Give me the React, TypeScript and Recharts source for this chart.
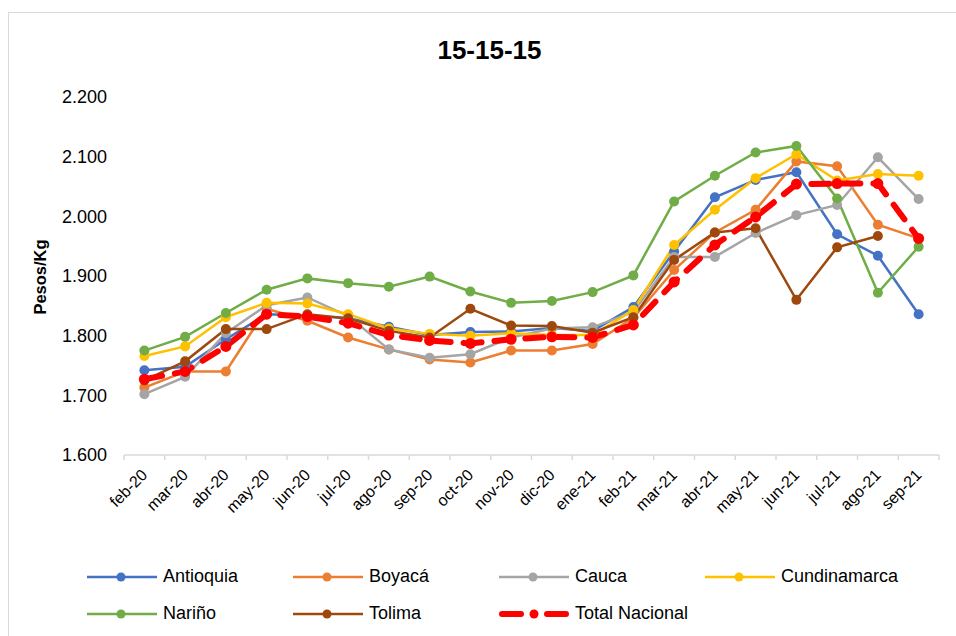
import { LineChart, Line, XAxis, YAxis } from "recharts";

const months = [
  "feb-20", "mar-20", "abr-20", "may-20", "jun-20", "jul-20", "ago-20", "sep-20", "oct-20", "nov-20",
  "dic-20", "ene-21", "feb-21", "mar-21", "abr-21", "may-21", "jun-21", "jul-21", "ago-21", "sep-21",
];

const antioquia = [1742, 1748, 1794, 1836, 1834, 1829, 1815, 1801, 1806, 1807, 1813, 1808, 1848, 1941, 2032, 2061, 2074, 1970, 1934, 1836];
const boyaca = [1713, 1740, 1740, 1845, 1825, 1797, 1777, 1760, 1755, 1775, 1775, 1786, 1830, 1910, 1973, 2011, 2092, 2084, 1986, 1963];
const cauca = [1702, 1731, 1804, 1851, 1864, 1833, 1777, 1763, 1769, 1797, 1812, 1814, 1840, 1932, 1932, 1972, 2002, 2019, 2099, 2029];
const cundinamarca = [1766, 1782, 1831, 1855, 1854, 1836, 1812, 1803, 1800, 1804, 1801, 1801, 1843, 1952, 2011, 2064, 2104, 2060, 2071, 2068];
const narino = [1775, 1798, 1838, 1877, 1896, 1888, 1882, 1899, 1874, 1855, 1858, 1873, 1901, 2025, 2068, 2107, 2118, 2030, 1872, 1949];
const tolima = [1725, 1757, 1811, 1811, 1836, 1829, 1808, 1797, 1845, 1817, 1816, 1805, 1831, 1927, 1973, 1980, 1860, 1948, 1967, null];
const totalNacional = [1727, 1740, 1782, 1836, 1832, 1821, 1801, 1792, 1787, 1794, 1798, 1797, 1818, 1890, 1952, 1999, 2054, 2055, 2055, 1963];

const yTicks = [1600, 1700, 1800, 1900, 2000, 2100, 2200];

const series = [
  { key: "antioquia", name: "Antioquia", values: antioquia, color: "#4472C4" },
  { key: "boyaca", name: "Boyacá", values: boyaca, color: "#ED7D31" },
  { key: "cauca", name: "Cauca", values: cauca, color: "#A5A5A5" },
  { key: "cundinamarca", name: "Cundinamarca", values: cundinamarca, color: "#FFC000" },
  { key: "narino", name: "Nariño", values: narino, color: "#70AD47" },
  { key: "tolima", name: "Tolima", values: tolima, color: "#9E480E" },
  { key: "total", name: "Total Nacional", values: totalNacional, color: "#FF0000", dashed: true },
];

const data = months.map((m, i) => {
  const row: Record<string, any> = { month: m };
  series.forEach((s) => (row[s.key] = s.values[i]));
  return row;
});

const FONT = '"Liberation Sans", Arial, sans-serif';
const W = 956;
const H = 636;
const LEFT = 124;
const RIGHT = 17;
const HALF_BAND = (W - LEFT - RIGHT) / months.length / 2;

const fmt = (v: number) => (v / 1000).toFixed(3);

function XTick(props: any) {
  const { x, y, payload, index } = props;
  return (
    <g>
      {index === 0 && <line x1={x - HALF_BAND} x2={x - HALF_BAND} y1={y} y2={y + 5} stroke="#D9D9D9" strokeWidth={1.5} />}
      <line x1={x + HALF_BAND} x2={x + HALF_BAND} y1={y} y2={y + 5} stroke="#D9D9D9" strokeWidth={1.5} />
      <text
        x={x + 4}
        y={y + 21}
        textAnchor="end"
        transform={`rotate(-45, ${x + 4}, ${y + 21})`}
        fontSize={16}
        fontFamily={FONT}
        fill="#000"
      >
        {payload.value}
      </text>
    </g>
  );
}

function YTick(props: any) {
  const { x, y, payload } = props;
  return (
    <text x={x - 17} y={y} dy="0.36em" textAnchor="end" fontSize={18} fontFamily={FONT} fill="#000">
      {fmt(payload.value)}
    </text>
  );
}

function LegendItem({ s }: { s: (typeof series)[number] }) {
  return (
    <div style={{ display: "flex", alignItems: "center", width: 206 }}>
      <svg width={76} height={14}>
        {s.dashed ? (
          <g>
            <line x1={3} x2={22} y1={7} y2={7} stroke={s.color} strokeWidth={6} strokeLinecap="round" />
            <circle cx={35} cy={7} r={4.5} fill={s.color} />
            <line x1={48} x2={67} y1={7} y2={7} stroke={s.color} strokeWidth={6} strokeLinecap="round" />
          </g>
        ) : (
          <g>
            <line x1={0} x2={70} y1={7} y2={7} stroke={s.color} strokeWidth={2.5} />
            <circle cx={34} cy={7} r={4.5} fill={s.color} />
          </g>
        )}
      </svg>
      <span style={{ fontSize: 18, fontFamily: FONT, color: "#000", whiteSpace: "nowrap" }}>{s.name}</span>
    </div>
  );
}

export default function App() {
  return (
    <div style={{ position: "absolute", left: 0, top: 0, width: W, height: H, background: "#fff", overflow: "hidden" }}>
      <div
        style={{
          position: "absolute",
          left: 8,
          top: 12,
          width: 960,
          height: 640,
          border: "1.5px solid #D9D9D9",
          boxSizing: "border-box",
        }}
      />
      <div
        style={{
          position: "absolute",
          left: 0,
          width: 979,
          top: 33,
          textAlign: "center",
          fontFamily: FONT,
          fontWeight: "bold",
          fontSize: 26,
          lineHeight: "34px",
        }}
      >
        15-15-15
      </div>
      <div
        style={{
          position: "absolute",
          left: 40,
          top: 277,
          transform: "translate(-50%, -50%) rotate(-90deg)",
          fontFamily: FONT,
          fontWeight: "bold",
          fontSize: 16.5,
          whiteSpace: "nowrap",
        }}
      >
        Pesos/Kg
      </div>
      <LineChart width={W} height={H} data={data} margin={{ top: 97, right: RIGHT, bottom: 101, left: 0 }}>
        <XAxis
          dataKey="month"
          height={80}
          interval={0}
          padding={{ left: HALF_BAND, right: HALF_BAND }}
          axisLine={{ stroke: "#D9D9D9", strokeWidth: 1.5 }}
          tickLine={false}
          tickSize={0}
          tickMargin={0}
          tick={<XTick />}
        />
        <YAxis
          width={LEFT}
          domain={[1600, 2200]}
          ticks={yTicks}
          axisLine={false}
          tickLine={false}
          tickSize={0}
          tickMargin={0}
          tick={<YTick />}
        />
        {series.map((s) => (
          <Line
            key={s.key}
            dataKey={s.key}
            name={s.name}
            stroke={s.color}
            strokeWidth={s.dashed ? 6 : 2.5}
            strokeDasharray={s.dashed ? "18 13" : undefined}
            strokeLinecap={s.dashed ? "round" : "butt"}
            dot={{ r: s.dashed ? 5.5 : 5, fill: s.color, stroke: "none" }}
            type="linear"
            isAnimationActive={false}
            connectNulls={false}
          />
        ))}
      </LineChart>
      <div style={{ position: "absolute", left: 87, top: 566, display: "flex", flexWrap: "wrap", width: 830, rowGap: 16 }}>
        {series.map((s) => (
          <LegendItem key={s.key} s={s} />
        ))}
      </div>
    </div>
  );
}
